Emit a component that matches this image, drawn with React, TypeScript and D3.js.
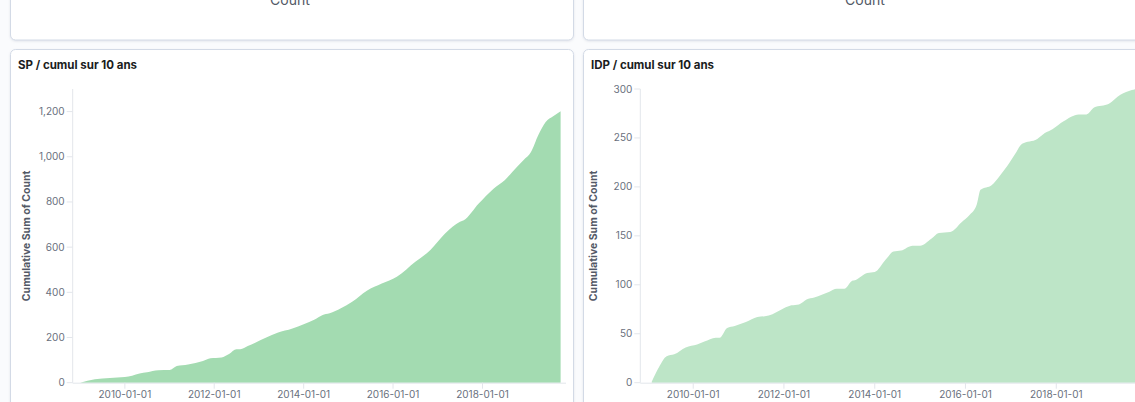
import React from "react";
import * as d3 from "d3";

// SP cumulative count
const spDates = [
  "2009-01", "2009-05", "2009-09", "2010-01", "2010-03", "2010-05", "2010-07", "2010-10",
  "2011-01", "2011-03", "2011-06", "2011-10", "2011-12", "2012-03", "2012-05", "2012-07",
  "2012-08", "2012-10", "2012-12", "2013-03", "2013-06", "2013-10", "2014-01", "2014-04",
  "2014-06", "2014-08", "2014-11", "2015-02", "2015-06", "2015-10", "2016-02", "2016-07",
  "2016-11", "2017-03", "2017-07", "2017-08", "2017-12", "2018-04", "2018-07", "2018-09",
  "2018-12", "2019-02", "2019-04", "2019-06", "2019-08", "2019-10",
];
const spValues = [
  0, 15, 21, 25, 31, 41, 46, 55,
  56, 74, 81, 96, 108, 112, 127, 148,
  148, 162, 177, 200, 221, 240, 259, 280,
  299, 307, 329, 358, 407, 439, 469, 535,
  587, 660, 712, 719, 793, 859, 896, 933,
  985, 1021, 1095, 1154, 1179, 1202,
];

// IDP cumulative count
const idpDates = [
  "2009-02", "2009-04", "2009-06", "2009-08", "2009-11", "2010-02", "2010-04", "2010-07",
  "2010-08", "2010-10", "2010-12", "2011-03", "2011-06", "2011-08", "2011-10", "2011-12",
  "2012-03", "2012-05", "2012-07", "2012-09", "2013-01", "2013-03", "2013-05", "2013-07",
  "2013-08", "2013-11", "2014-01", "2014-04", "2014-06", "2014-08", "2014-11", "2015-01",
  "2015-04", "2015-06", "2015-09", "2015-12", "2016-02", "2016-04", "2016-05", "2016-08",
  "2016-10", "2016-12", "2017-02", "2017-04", "2017-08", "2017-10", "2017-12", "2018-03",
  "2018-07", "2018-09", "2018-11", "2019-03", "2019-06", "2019-09", "2019-10",
];
const idpValues = [
  1, 16, 27, 29, 36, 39, 42, 46,
  46, 56, 58, 62, 67, 68, 70, 74,
  79, 80, 85, 87, 93, 96, 96, 104,
  105, 112, 113, 126, 134, 135, 140, 140,
  147, 153, 154, 164, 171, 182, 197, 202,
  211, 221, 233, 244, 249, 255, 259, 267,
  274, 274, 281, 285, 294, 299, 300,
];

const spTicks = [0, 200, 400, 600, 800, 1000, 1200];
const idpTicks = [0, 50, 100, 150, 200, 250, 300];
const xTickLabels = ["2010-01-01", "2012-01-01", "2014-01-01", "2016-01-01", "2018-01-01"];
const xDomain = ["2008-11-09", "2019-11-14"];

const parseMonth = d3.timeParse("%Y-%m");
const parseDay = d3.timeParse("%Y-%m-%d");
const fmt = d3.format(",");

const FONT = "Inter, 'Noto Sans', sans-serif";
const W = 1135;
const H = 402;
const plotTop = 89;
const plotBottom = 382.7;

interface ChartProps {
  panelX: number;
  panelW: number;
  title: string;
  dates: string[];
  values: number[];
  yMax: number;
  yTicks: number[];
  left: number;
  right: number;
  fill: string;
}

const AreaChart: React.FC<ChartProps> = ({
  panelX, panelW, title, dates, values, yMax, yTicks, left, right, fill,
}) => {
  const x = d3.scaleTime()
    .domain(xDomain.map((d) => parseDay(d) as Date))
    .range([left, right]);
  const y = d3.scaleLinear().domain([0, yMax]).range([plotBottom, plotTop]);
  const pts = dates.map((d, i) => ({ date: parseMonth(d) as Date, v: values[i] }));
  const area = d3.area<{ date: Date; v: number }>()
    .x((d) => x(d.date))
    .y0(y(0))
    .y1((d) => y(d.v))
    .curve(d3.curveMonotoneX);
  const midY = (plotTop + plotBottom) / 2;

  return (
    <g>
      <rect x={panelX + 0.5} y={49.5} width={panelW} height={400} rx={5}
        fill="#fff" stroke="#d3dae6" filter="url(#shadow)" />
      <text x={panelX + 8} y={69} fontFamily={FONT} fontSize={11.5} fontWeight={700} fill="#1a1c21">
        {title}
      </text>
      <text
        transform={`translate(${left - 44},${midY}) rotate(-90)`}
        textAnchor="middle" fontFamily={FONT} fontSize={10.5} fontWeight={700} fill="#535966">
        Cumulative Sum of Count
      </text>
      <path d={area(pts) || ""} fill={fill} />
      <line x1={left - 1} x2={left - 1} y1={plotTop} y2={plotBottom} stroke="#e3e6eb" />
      <line x1={left - 1} x2={right} y1={plotBottom + 0.5} y2={plotBottom + 0.5} stroke="#e3e6eb" />
      {yTicks.map((t) => (
        <g key={t}>
          <line x1={left - 7} x2={left - 1} y1={y(t)} y2={y(t)} stroke="#e3e6eb" />
          <text x={left - 9} y={y(t)} dy="0.35em" textAnchor="end" fontFamily={FONT}
            fontSize={10} fill="#69707d">{fmt(t)}</text>
        </g>
      ))}
      {xTickLabels.map((t) => {
        const px = x(parseDay(t) as Date);
        return (
          <g key={t}>
            <line x1={px} x2={px} y1={plotBottom} y2={plotBottom + 6} stroke="#e3e6eb" />
            <text x={px} y={394} dy="0.35em" textAnchor="middle" fontFamily={FONT}
              fontSize={10} fill="#69707d">{t}</text>
          </g>
        );
      })}
    </g>
  );
};

export default function App() {
  return (
    <div style={{ position: "absolute", left: 0, top: 0, width: W, height: H, background: "#fafbfd" }}>
      <svg width={W} height={H} style={{ display: "block" }}>
        <defs>
          <filter id="shadow" x="-5%" y="-5%" width="110%" height="110%">
            <feDropShadow dx="0" dy="1" stdDeviation="1.2" floodColor="#98a2b3" floodOpacity="0.25" />
          </filter>
        </defs>
        {/* top panels, cut off */}
        <rect x={10.5} y={-60} width={563} height={100} rx={5} fill="#fff" stroke="#d3dae6" filter="url(#shadow)" />
        <rect x={583.5} y={-60} width={600} height={100} rx={5} fill="#fff" stroke="#d3dae6" filter="url(#shadow)" />
        <text x={290} y={5} textAnchor="middle" fontFamily={FONT} fontSize={14} fill="#535966">Count</text>
        <text x={865} y={5} textAnchor="middle" fontFamily={FONT} fontSize={14} fill="#535966">Count</text>

        <AreaChart panelX={10} panelW={563} title="SP / cumul sur 10 ans"
          dates={spDates} values={spValues} yMax={1300} yTicks={spTicks}
          left={73.7} right={566} fill="#a3dbb1" />
        <AreaChart panelX={583} panelW={600} title="IDP / cumul sur 10 ans"
          dates={idpDates} values={idpValues} yMax={300} yTicks={idpTicks}
          left={641.3} right={1141} fill="#bde5c7" />
      </svg>
    </div>
  );
}
